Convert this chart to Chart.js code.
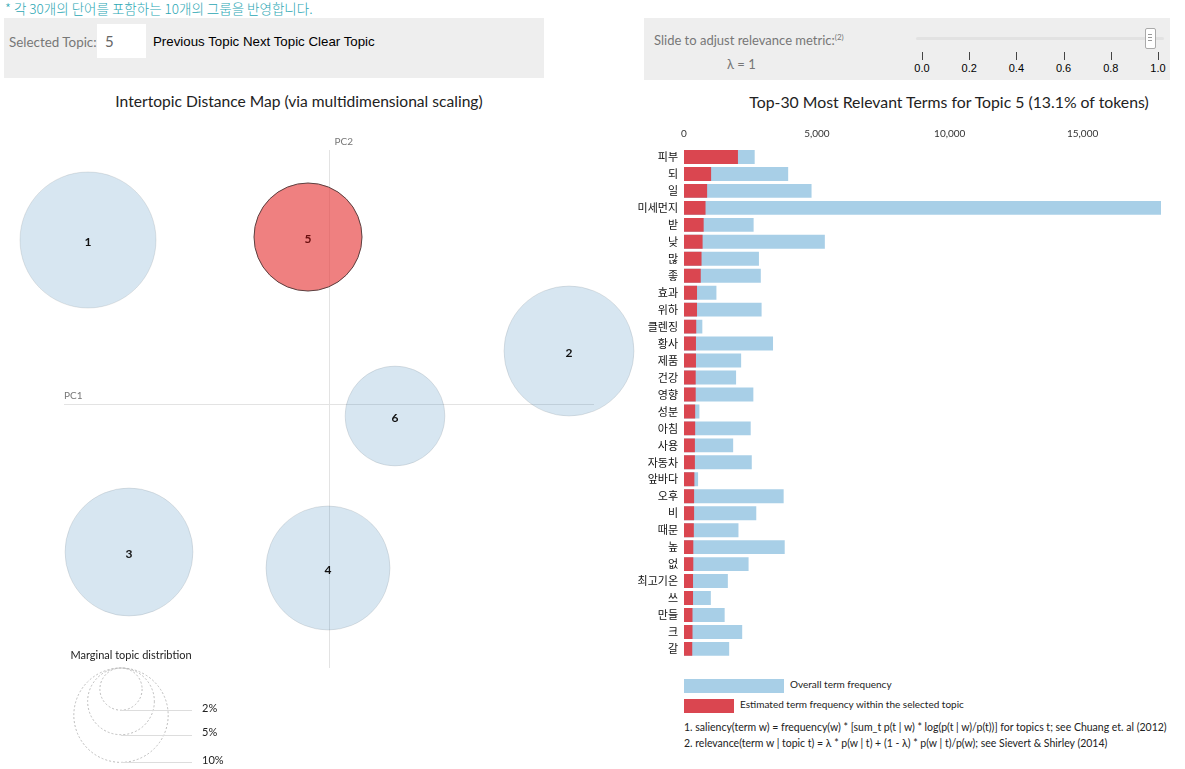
<!DOCTYPE html>
<html><head><meta charset="utf-8">
<script src="https://cdn.jsdelivr.net/npm/chart.js@4.4.1/dist/chart.umd.min.js"></script>
<style>
body{margin:0;width:1185px;height:769px;position:relative;background:#fff;font-family:Lato,"Noto Sans CJK KR",sans-serif;overflow:hidden;color:#222}
.abs{position:absolute;white-space:nowrap}
.tk{position:absolute;top:52px;width:1px;height:8px;background:#444}
.tl{position:absolute;top:62px;width:30px;margin-left:-15px;text-align:center;font-family:"Liberation Sans",Arial,sans-serif;font-size:11px;color:#000}
</style></head><body>
<div class="abs" style="left:5px;top:-1px;font-size:13.5px;color:#2ba7b4;font-family:'Noto Sans CJK KR',sans-serif;line-height:18px;font-weight:300">* 각 30개의 단어를 포함하는 10개의 그룹을 반영합니다.</div>
<div class="abs" style="left:4px;top:18px;width:540px;height:60px;background:#eeeeee"></div>
<div class="abs" style="left:9px;top:33px;font-size:13.4px;color:#777;line-height:18px">Selected Topic:</div>
<div class="abs" style="left:97px;top:24px;width:49px;height:34px;background:#fff"></div>
<div class="abs" style="left:105px;top:32px;font-size:15px;color:#666;line-height:18px">5</div>
<div class="abs" style="left:153px;top:33px;font-size:13.3px;color:#000;font-family:'Liberation Sans',Arial,sans-serif;line-height:18px">Previous Topic Next Topic Clear Topic</div>

<div class="abs" style="left:644px;top:18px;width:526px;height:62px;background:#eeeeee"></div>
<div class="abs" style="left:654px;top:28px;font-size:13px;color:#777;line-height:18px">Slide to adjust relevance metric:<sup style="font-size:8px">(2)</sup></div>
<div class="abs" style="left:727px;top:55px;font-size:13px;color:#777;line-height:18px">λ = 1</div>
<div class="abs" style="left:916px;top:37px;width:248px;height:3px;background:#e2e2e2;border-radius:2px"></div>
<div class="abs" style="left:1145px;top:28px;width:9px;height:19px;background:#fff;border:1px solid #aaa;border-radius:2px"></div>
<div class="abs" style="left:1148px;top:34px;width:4px;height:1px;background:#999"></div>
<div class="abs" style="left:1148px;top:37px;width:4px;height:1px;background:#999"></div>
<div class="abs" style="left:1148px;top:40px;width:4px;height:1px;background:#999"></div>
<div id="slider"></div>

<div class="abs" style="left:0;width:598px;top:92px;text-align:center;font-size:15.6px;color:#222">Intertopic Distance Map (via multidimensional scaling)</div>
<div class="abs" style="left:654px;width:590px;top:92px;text-align:center;font-size:15.8px;color:#222">Top-30 Most Relevant Terms for Topic 5 (13.1% of tokens)</div>

<canvas id="map" class="abs" style="left:0;top:120px" width="640" height="649"></canvas>
<canvas id="bars" class="abs" style="left:600px;top:120px" width="585" height="550"></canvas>

<div class="abs" style="left:0;width:262px;top:648px;text-align:center;font-size:11px;color:#222">Marginal topic distribtion</div>
<div class="abs" style="left:202px;top:701px;font-size:11px;color:#222">2%</div>
<div class="abs" style="left:202px;top:725px;font-size:11px;color:#222">5%</div>
<div class="abs" style="left:202px;top:753px;font-size:11px;color:#222">10%</div>

<div class="abs" style="left:684px;top:679px;width:100px;height:14px;background:#a8cfe7"></div>
<div class="abs" style="left:790px;top:678px;font-size:10px;color:#222">Overall term frequency</div>
<div class="abs" style="left:684px;top:699px;width:50px;height:14px;background:#da4650"></div>
<div class="abs" style="left:740px;top:698px;font-size:10px;color:#222">Estimated term frequency within the selected topic</div>
<div class="abs" style="left:684px;top:721px;font-size:10.5px;color:#222">1. saliency(term w) = frequency(w) * [sum_t p(t | w) * log(p(t | w)/p(t))] for topics t; see Chuang et. al (2012)</div>
<div class="abs" style="left:684px;top:737px;font-size:10.5px;color:#222">2. relevance(term w | topic t) = λ * p(w | t) + (1 - λ) * p(w | t)/p(w); see Sievert &amp; Shirley (2014)</div>

<script>
// ---- data ----
const topicIds = ['1','2','3','4','5','6'];
const topicPC1 = [-0.241, 0.240, -0.200, -0.001, -0.021, 0.066];
const topicPC2 = [0.164, 0.053, -0.148, -0.164, 0.167, -0.012];
const topicShare = [20.8, 19.0, 18.4, 17.3, 13.1, 11.2]; // % of tokens
const selectedTopic = '5';
const legendShares = [2, 5, 10];

const terms = ['피부','되','일','미세먼지','받','낮','많','좋','효과','위하','클렌징','황사','제품','건강','영향','성분','아침','사용','자동차','앞바다','오후','비','때문','높','없','최고기온','쓰','만들','크','갈'];
const overallFreq = [2660,3920,4800,17950,2620,5300,2820,2890,1220,2920,690,3350,2150,1960,2610,580,2510,1850,2550,530,3750,2720,2050,3790,2430,1650,1010,1530,2190,1700];
const topicFreq = [2030,1020,870,810,740,700,660,630,490,490,460,450,450,440,440,420,420,410,410,390,380,380,370,350,350,340,340,320,320,310];
const freqTicks = [0, 5000, 10000, 15000];
const sliderTicks = ['0.0','0.2','0.4','0.6','0.8','1.0'];

// slider ticks
(function(){
  const s = document.getElementById('slider');
  sliderTicks.forEach((t,i)=>{
    const x = 922 + i*47.2;
    s.insertAdjacentHTML('beforeend', `<div class="tk" style="left:${x}px"></div><div class="tl" style="left:${x}px">${t}</div>`);
  });
})();

const RK = 54/Math.sqrt(13.1); // px per sqrt(%)

// ---- intertopic map ----
const axesPlugin = {
  id:'pcaxes',
  beforeDatasetsDraw(chart){
    const {ctx, scales:{x,y}} = chart;
    ctx.save();
    ctx.strokeStyle = '#e3e3e3'; ctx.lineWidth = 1;
    const x0 = Math.round(x.getPixelForValue(0))+0.5, y0 = Math.round(y.getPixelForValue(0))+0.5;
    ctx.beginPath();
    ctx.moveTo(x.getPixelForValue(-0.265), y0); ctx.lineTo(x.getPixelForValue(0.265), y0);
    ctx.moveTo(x0, y.getPixelForValue(0.254)); ctx.lineTo(x0, y.getPixelForValue(-0.264));
    ctx.stroke();
    ctx.fillStyle = '#777'; ctx.font = '10px Lato, sans-serif'; ctx.textBaseline='middle';
    ctx.fillText('PC1', x.getPixelForValue(-0.265), y0-9);
    ctx.fillText('PC2', x0+5, y.getPixelForValue(0.254)-8);
    // marginal legend circles
    ctx.setLineDash([2,2]); ctx.strokeStyle = '#bbb';
    const cx = 121, top = 548;
    legendShares.forEach(s=>{
      const r = RK*Math.sqrt(s);
      ctx.beginPath(); ctx.arc(cx, top + r, r, 0, Math.PI*2); ctx.stroke();
    });
    ctx.setLineDash([]); ctx.strokeStyle='#ddd';
    legendShares.forEach(s=>{
      const r = RK*Math.sqrt(s);
      const yy = Math.round(top+2*r)+0.5;
      ctx.beginPath(); ctx.moveTo(cx, yy); ctx.lineTo(192, yy); ctx.stroke();
    });
    ctx.restore();
  },
  afterDatasetsDraw(chart){
    const {ctx} = chart;
    const meta = chart.getDatasetMeta(0);
    ctx.save();
    ctx.font = 'bold 12px Lato, sans-serif'; ctx.textAlign='center'; ctx.textBaseline='middle';
    meta.data.forEach((el,i)=>{
      ctx.fillStyle = topicIds[i]===selectedTopic ? '#6a0f0f' : '#111';
      ctx.fillText(topicIds[i], el.x, el.y+2);
    });
    ctx.restore();
  }
};

new Chart(document.getElementById('map'), {
  type:'bubble',
  data:{datasets:[{
    data: topicIds.map((t,i)=>({x:topicPC1[i], y:topicPC2[i], r:RK*Math.sqrt(topicShare[i])})),
    backgroundColor: topicIds.map(t=> t===selectedTopic ? 'rgba(230,60,60,0.65)' : 'rgba(31,119,180,0.18)'),
    borderColor: topicIds.map(t=> t===selectedTopic ? '#5a4040' : 'rgba(0,0,0,0.09)'),
    borderWidth: 1,
    clip: false
  }]},
  options:{
    responsive:false, animation:false, events:[],
    layout:{padding:0, autoPadding:false},
    plugins:{legend:{display:false}, tooltip:{enabled:false}},
    scales:{
      x:{display:false, min:-0.329, max:0.311},
      y:{display:false, min:-0.365, max:0.284}
    }
  },
  plugins:[axesPlugin]
});

// ---- bar chart ----
new Chart(document.getElementById('bars'), {
  type:'bar',
  data:{labels:terms, datasets:[
    {label:'Estimated term frequency within the selected topic', data:topicFreq, backgroundColor:'#da4650', order:0},
    {label:'Overall term frequency', data:overallFreq, backgroundColor:'#a8cfe7', order:1}
  ]},
  options:{
    indexAxis:'y', responsive:false, animation:false, events:[],
    datasets:{bar:{grouped:false, barPercentage:0.82, categoryPercentage:1}},
    layout:{padding:{left:0,right:24,top:0,bottom:11.5}, autoPadding:false},
    plugins:{legend:{display:false}, tooltip:{enabled:false}},
    scales:{
      x:{position:'top', min:0, max:Math.max(...overallFreq),
         afterBuildTicks(s){ s.ticks = freqTicks.map(v=>({value:v})); },
         ticks:{font:{size:10, family:'Lato'}, color:'#333', padding:9},
         grid:{display:false, drawTicks:false}, border:{display:false},
         afterFit(s){ s.height = 28.5; }},
      y:{ticks:{font:{size:11, family:'"Noto Sans CJK KR"'}, color:'#111', padding:6, autoSkip:false},
         grid:{display:false, drawTicks:false}, border:{display:false},
         afterFit(s){ s.width = 84; }}
    }
  }
});
</script>
</body></html>
